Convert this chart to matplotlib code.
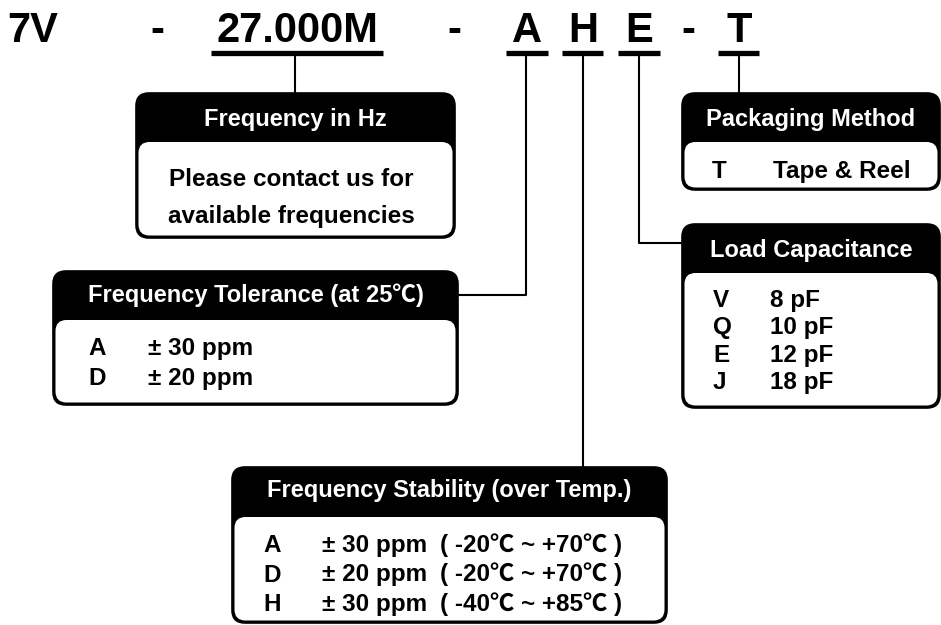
import matplotlib
matplotlib.use("Agg")
import matplotlib.pyplot as plt
from matplotlib.patches import FancyBboxPatch

# part number pieces along the top line
part_codes = ["7V", "-", "27.000M", "-", "A", "H", "E", "-", "T"]
underlined = [False, False, True, False, True, True, True, False, True]

freq_title = "Frequency in Hz"
freq_note = ["Please contact us for", "available frequencies"]

tol_title = "Frequency Tolerance (at 25\u2103)"
tol_codes = ["A", "D"]
tol_values = ["\u00b1 30 ppm", "\u00b1 20 ppm"]

stab_title = "Frequency Stability (over Temp.)"
stab_codes = ["A", "D", "H"]
stab_values = ["\u00b1 30 ppm", "\u00b1 20 ppm", "\u00b1 30 ppm"]
stab_ranges = ["( -20\u2103 ~ +70\u2103 )", "( -20\u2103 ~ +70\u2103 )",
               "( -40\u2103 ~ +85\u2103 )"]

load_title = "Load Capacitance"
load_codes = ["V", "Q", "E", "J"]
load_values = ["8 pF", "10 pF", "12 pF", "18 pF"]

pack_title = "Packaging Method"
pack_codes = ["T"]
pack_values = ["Tape & Reel"]

# Liberation lacks the degree-Celsius sign, CJK font supplies it
FONT = ["Liberation Sans", "Noto Sans CJK SC", "DejaVu Sans"]
BODY = 17.5
HEAD = 17

fig = plt.figure(figsize=(9.41, 6.25), dpi=100)
ax = fig.add_axes([0, 0, 1, 1])
ax.set_xlim(0, 941)
ax.set_ylim(625, 0)
ax.axis("off")


def txt(x, y, s, size=BODY, color="black", ha="left"):
    ax.text(x, y, s, fontsize=size, color=color, ha=ha, va="baseline",
            fontweight="bold", family=FONT)


def box(left, top, right, bottom, head_bottom, title, title_base):
    outer = FancyBboxPatch((left, top), right - left, bottom - top,
                           boxstyle="round,pad=0,rounding_size=13",
                           fc="black", ec="black", lw=1.2)
    ax.add_patch(outer)
    inner = FancyBboxPatch((left + 2.5, head_bottom), right - left - 5,
                           bottom - head_bottom - 2.5,
                           boxstyle="round,pad=0,rounding_size=11",
                           fc="white", ec="none")
    ax.add_patch(inner)
    txt((left + right) / 2, title_base, title, size=HEAD, color="white",
        ha="center")


# top line with underlines
code_x = [33, 157, 297, 454, 527, 583, 639, 688, 739]
code_w = [0, 0, 172, 0, 42, 41, 42, 0, 41]
for x, c, u, w in zip(code_x, part_codes, underlined, code_w):
    txt(x, 42, c, size=30, ha="center")
    if u:
        ax.plot([x - w / 2, x + w / 2], [53, 53], color="black", lw=3.8,
                solid_capstyle="butt")

lw = 1.5
# connectors
ax.plot([295, 295], [53, 93], color="black", lw=lw)
ax.plot([526, 526, 458], [53, 295, 295], color="black", lw=lw)
ax.plot([583, 583], [53, 467], color="black", lw=lw)
ax.plot([639, 639, 682], [53, 243, 243], color="black", lw=lw)
ax.plot([739, 739], [53, 93], color="black", lw=lw)

# Frequency in Hz
box(136, 93, 455, 238, 142, freq_title, 126)
for i, s in enumerate(freq_note):
    txt(291, 186 + i * 37, s, ha="center")

# Tolerance
box(53, 271, 458, 405, 320, tol_title, 302)
for i, (c, v) in enumerate(zip(tol_codes, tol_values)):
    txt(88, 355 + i * 30, c)
    txt(148, 355 + i * 30, v)

# Stability
box(232, 467, 667, 623, 517, stab_title, 497)
for i, (c, v, r) in enumerate(zip(stab_codes, stab_values, stab_ranges)):
    txt(263, 552 + i * 29.5, c)
    txt(322, 552 + i * 29.5, v)
    txt(440, 552 + i * 29.5, r)

# Load capacitance
box(682, 224, 940, 408, 273, load_title, 257)
for i, (c, v) in enumerate(zip(load_codes, load_values)):
    txt(713, 307 + i * 27.3, c)
    txt(770, 307 + i * 27.3, v)

# Packaging
box(682, 93, 940, 190, 142, pack_title, 126)
for c, v in zip(pack_codes, pack_values):
    txt(712, 178, c)
    txt(773, 178, v)

fig.savefig("out.png", dpi=100)
